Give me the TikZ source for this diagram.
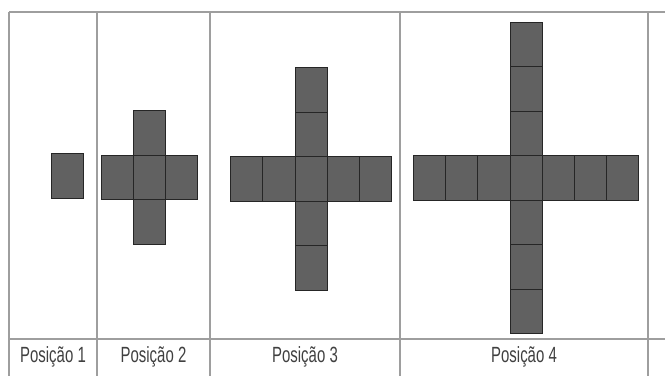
\documentclass[tikz,border=0pt]{standalone}
\usepackage{fontspec}
\setmainfont{Liberation Sans}
\begin{document}
\begin{tikzpicture}[x=1pt,y=-1pt,
			celula/.style={
				rectangle,
				draw=black!85,
				fill=black!62,
				line width=0.8pt,
				minimum width=32.2pt,
				minimum height=44.5pt,
				inner sep=0pt
			},
			grade/.style={draw=black!38, line width=1.1pt},
			rotulo/.style={font=\fontsize{22}{24}\selectfont, text=black!75, inner sep=0pt}
			]
			\useasboundingbox (0,0) rectangle (665,376);
			%---------------- GRADE ----------------
			\draw[grade, line width=1.6pt] (9,12) -- (665,12);
			\draw[grade] (9,339) -- (665,339);
			\foreach \x in {9,97,210,400,648}
				\draw[grade] (\x,12) -- (\x,376);
			%---------------- POSIÇÃO 1 ----------------
			\node[celula] (p1) at (67,176) {};
			%---------------- POSIÇÃO 2 ----------------
			\foreach \k in {-1,...,1} {
				\node[celula] at (149.5+\k*32.2,177.5) {};
				\node[celula] at (149.5,177.5+\k*44.5) {};
			}
			%---------------- POSIÇÃO 3 ----------------
			\foreach \k in {-2,...,2} {
				\node[celula] at (311+\k*32.2,179) {};
				\node[celula] at (311,179+\k*44.5) {};
			}
			%---------------- POSIÇÃO 4 ----------------
			\foreach \k in {-3,...,3} {
				\node[celula] at (526+\k*32.2,178) {};
				\node[celula] at (526,178+\k*44.5) {};
			}
			%---------------- RÓTULOS ----------------
			\node[rotulo] (r1) at (53,357) {\scalebox{0.68}[1]{Posição 1}};
			\node[rotulo] (r2) at (153.5,357) {\scalebox{0.68}[1]{Posição 2}};
			\node[rotulo] (r3) at (305,357) {\scalebox{0.68}[1]{Posição 3}};
			\node[rotulo] (r4) at (524,357) {\scalebox{0.68}[1]{Posição 4}};
		\end{tikzpicture}
\end{document}
